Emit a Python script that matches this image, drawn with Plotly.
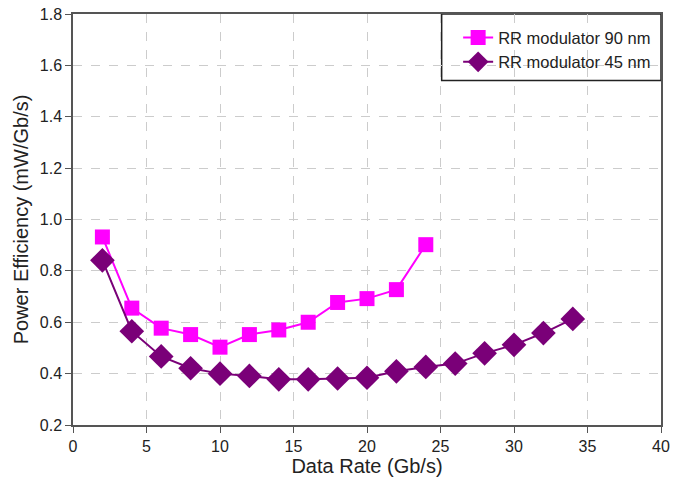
import plotly.graph_objects as go

rate_90 = [2, 4, 6, 8, 10, 12, 14, 16, 18, 20, 22, 24]
eff_90 = [0.932, 0.655, 0.577, 0.552, 0.503, 0.552, 0.570, 0.600, 0.677, 0.692, 0.727, 0.902]

rate_45 = [2, 4, 6, 8, 10, 12, 14, 16, 18, 20, 22, 24, 26, 28, 30, 32, 34]
eff_45 = [0.841, 0.565, 0.467, 0.421, 0.400, 0.391, 0.378, 0.378, 0.381, 0.384, 0.409, 0.426, 0.439, 0.479, 0.512, 0.558, 0.613]

x_ticks = [0, 5, 10, 15, 20, 25, 30, 35, 40]
y_ticks = [0.2, 0.4, 0.6, 0.8, 1.0, 1.2, 1.4, 1.6, 1.8]

FONT = "Liberation Sans, Arial, sans-serif"

fig = go.Figure()
fig.add_trace(go.Scatter(
    x=rate_90, y=eff_90, name="RR modulator 90 nm", mode="lines+markers",
    line=dict(color="#FF00FF", width=2),
    marker=dict(symbol="square", size=15, color="#FF00FF"),
))
fig.add_trace(go.Scatter(
    x=rate_45, y=eff_45, name="RR modulator 45 nm", mode="lines+markers",
    line=dict(color="#7A0078", width=2),
    marker=dict(symbol="diamond", size=19, color="#7A0078"),
))

axis_common = dict(
    showline=True, linecolor="#555555", linewidth=1.5, mirror=True,
    ticks="outside", ticklen=6, tickcolor="#555555",
    showgrid=True, gridcolor="#CCCCCC", griddash="dash", gridwidth=1,
    zeroline=False, automargin=False,
    tickfont=dict(family=FONT, size=16, color="#222222"),
)

fig.update_layout(
    width=686, height=478,
    margin=dict(l=73, r=25, t=14, b=53),
    paper_bgcolor="white", plot_bgcolor="white",
    font=dict(family=FONT, color="#222222"),
    xaxis=dict(
        range=[0, 40], tickvals=x_ticks,
        title=dict(text="Data Rate (Gb/s)", font=dict(size=20), standoff=3),
        **axis_common,
    ),
    yaxis=dict(
        range=[0.2, 1.8], tickvals=y_ticks, tickformat=".1f",
        title=dict(text="Power Efficiency (mW/Gb/s)", font=dict(size=20), standoff=6),
        **axis_common,
    ),
    legend=dict(
        x=0.655, y=0.985, xanchor="left", yanchor="top",
        bgcolor="rgba(0,0,0,0)", borderwidth=0,
        font=dict(size=16.5, color="#222222"),
    ),
    shapes=[dict(
        type="rect", xref="paper", yref="paper",
        x0=0.627, x1=1.0, y0=0.838, y1=1.0,
        line=dict(color="#222222", width=1.5), fillcolor="white", layer="below",
    )],
)

fig.write_html("out.html", config={"displayModeBar": False},
               post_script="document.body.style.margin='0';")
